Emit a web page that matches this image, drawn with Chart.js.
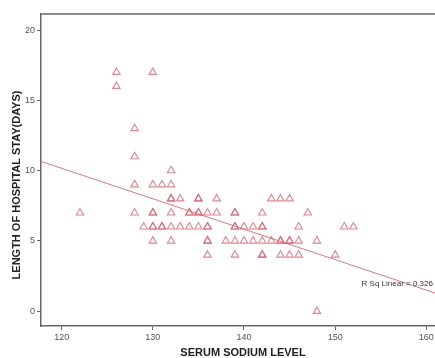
<!DOCTYPE html>
<html>
<head>
<meta charset="utf-8">
<script src="https://cdn.jsdelivr.net/npm/chart.js@4/dist/chart.umd.min.js"></script>
<style>
html,body{margin:0;padding:0;background:#fff;overflow:hidden;}
#wrap{width:435px;height:358px;position:relative;overflow:hidden;}
#c{position:absolute;left:0;top:0;}
</style>
</head>
<body>
<div id="wrap"><canvas id="c" width="441" height="358" style="width:441px;height:358px"></canvas></div>
<script>
// Serum sodium level (x) and length of hospital stay in days (y)
const sodium = [
  126,130,
  126,
  128,
  128,
  132,
  128,130,131,132,
  132,132,133,135,135,137,143,144,145,
  122,128,130,130,132,134,134,135,135,136,137,139,139,142,147,
  129,130,130,131,131,132,133,134,135,136,136,139,139,140,141,142,142,146,151,152,
  130,132,136,136,138,139,140,141,142,143,144,144,145,145,146,148,
  136,139,142,142,144,145,146,150,
  148
];
const stayDays = [
  17,17,
  16,
  13,
  11,
  10,
  9,9,9,9,
  8,8,8,8,8,8,8,8,8,
  7,7,7,7,7,7,7,7,7,7,7,7,7,7,7,
  6,6,6,6,6,6,6,6,6,6,6,6,6,6,6,6,6,6,6,6,
  5,5,5,5,5,5,5,5,5,5,5,5,5,5,5,5,
  4,4,4,4,4,4,4,4,
  0
];
// Fit line endpoints
const fitX = [117.76, 161.03];
const fitY = [10.65, 1.28];
const xTicks = [120,130,140,150,160];
const yTicks = [0,5,10,15,20];
const rsqLabel = 'R Sq Linear = 0.326';
const xTitle = 'SERUM SODIUM LEVEL';
const yTitle = 'LENGTH OF HOSPITAL STAY(DAYS)';

const points = sodium.map((v,i)=>({x:v,y:stayDays[i]}));
const fit = fitX.map((v,i)=>({x:v,y:fitY[i]}));

const deco = {
  id:'deco',
  afterDraw(chart){
    const {ctx, chartArea:a, scales} = chart;
    ctx.save();
    // top frame line
    ctx.strokeStyle = '#666';
    ctx.lineWidth = 1.5;
    ctx.beginPath();
    ctx.moveTo(a.left, a.top);
    ctx.lineTo(a.right + 10, a.top);
    ctx.stroke();
    // R sq label
    ctx.fillStyle = '#333';
    ctx.font = '8px "Liberation Sans", Arial, sans-serif';
    ctx.textAlign = 'left';
    ctx.textBaseline = 'middle';
    ctx.fillText(rsqLabel, scales.x.getPixelForValue(152.9), scales.y.getPixelForValue(1.94));
    // axis titles
    ctx.fillStyle = '#222';
    ctx.font = 'bold 11px "Liberation Sans", Arial, sans-serif';
    ctx.textAlign = 'center';
    ctx.fillText(xTitle, 243, 353);
    ctx.translate(17, 185);
    ctx.rotate(-Math.PI/2);
    ctx.fillText(yTitle, 0, 0);
    ctx.restore();
  }
};

new Chart(document.getElementById('c'), {
  type:'scatter',
  data:{
    datasets:[
      {
        data: points,
        pointStyle:'triangle',
        radius:4.3,
        hoverRadius:4.3,
        borderWidth:1.1,
        borderColor:'rgba(222,90,100,0.75)',
        backgroundColor:'rgba(0,0,0,0)',
        order:1
      },
      {
        type:'line',
        data: fit,
        borderColor:'rgba(225,110,115,0.95)',
        borderWidth:1,
        pointRadius:0,
        fill:false,
        clip:false,
        order:2
      }
    ]
  },
  options:{
    responsive:false,
    animation:false,
    devicePixelRatio:1,
    layout:{padding:{top:14,right:0,left:0,bottom:0}},
    plugins:{legend:{display:false},tooltip:{enabled:false}},
    scales:{
      x:{
        type:'linear',
        min:117.73,
        max:161.02,
        afterBuildTicks(s){ s.ticks = xTicks.map(v=>({value:v})); },
        afterFit(s){ s.height = 32; },
        grid:{display:true,drawOnChartArea:false,drawTicks:true,tickLength:4,color:'#666',lineWidth:1},
        border:{display:true,color:'#666',width:1.5},
        ticks:{color:'#555',font:{size:9,family:'"Liberation Sans", Arial, sans-serif'},padding:2,maxRotation:0,autoSkip:false}
      },
      y:{
        type:'linear',
        min:-1.05,
        max:21.14,
        afterBuildTicks(s){ s.ticks = yTicks.map(v=>({value:v})); },
        afterFit(s){ s.width = 41; },
        grid:{display:true,drawOnChartArea:false,drawTicks:true,tickLength:4,color:'#666',lineWidth:1},
        border:{display:true,color:'#666',width:1.5},
        ticks:{color:'#555',font:{size:9,family:'"Liberation Sans", Arial, sans-serif'},padding:2,autoSkip:false}
      }
    }
  },
  plugins:[deco]
});
</script>
</body>
</html>
